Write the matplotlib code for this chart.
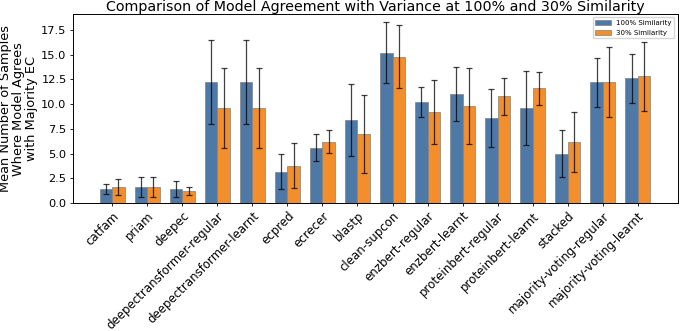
import matplotlib
matplotlib.use("Agg")
import matplotlib.pyplot as plt
import numpy as np

models = ["catfam", "priam", "deepec", "deepectransformer-regular", "deepectransformer-learnt",
          "ecpred", "ecrecer", "blastp", "clean-supcon", "enzbert-regular", "enzbert-learnt",
          "proteinbert-regular", "proteinbert-learnt", "stacked", "majority-voting-regular",
          "majority-voting-learnt"]
mean_100 = [1.4, 1.6, 1.4, 12.2, 12.2, 3.2, 5.6, 8.4, 15.2, 10.2, 11.0, 8.6, 9.6, 5.0, 12.2, 12.6]
err_100 = [0.5, 1.0, 0.8, 4.25, 4.25, 1.8, 1.35, 3.6, 3.05, 1.5, 2.75, 2.9, 3.7, 2.35, 2.5, 2.45]
mean_30 = [1.6, 1.6, 1.2, 9.6, 9.6, 3.8, 6.2, 7.0, 14.8, 9.2, 9.8, 10.8, 11.6, 6.2, 12.2, 12.8]
err_30 = [0.8, 1.0, 0.4, 4.05, 4.05, 2.3, 1.15, 3.9, 3.2, 3.2, 3.8, 1.85, 1.65, 3.05, 3.55, 3.45]

fig = plt.figure(figsize=(6.8, 3.31), dpi=100)
ax = fig.add_axes([0.107, 0.386, 0.89, 0.572])

x = np.arange(len(models))
w = 0.35
ekw = dict(ecolor="black", capsize=2.2, elinewidth=0.9, capthick=0.9, alpha=0.75)
ax.bar(x - w/2, mean_100, w, yerr=err_100, color="#4e79a7", edgecolor="grey", linewidth=0.5,
       label="100% Similarity", error_kw=ekw)
ax.bar(x + w/2, mean_30, w, yerr=err_30, color="#f28e2b", edgecolor="grey", linewidth=0.5,
       label="30% Similarity", error_kw=ekw)

ax.set_xticks(x)
ax.set_xticklabels(models, rotation=45, ha="right", rotation_mode="anchor", fontsize=8.5)
ax.tick_params(axis="y", labelsize=8.2)
ax.tick_params(axis="both", length=2.5, width=0.6, pad=2)
for s in ax.spines.values():
    s.set_linewidth(0.7)
ax.set_xlim(-1.13, 16.15)
ax.set_ylim(0, 19.1)
ax.set_yticks(np.arange(0, 17.6, 2.5))
ax.set_ylabel("Mean Number of Samples\nWhere Model Agrees\nwith Majority EC", fontsize=9.3, labelpad=2,
              linespacing=1.0)
ax.set_title("Comparison of Model Agreement with Variance at 100% and 30% Similarity", fontsize=10.3, pad=2)
ax.legend(loc="upper right", fontsize=5, handlelength=2.2, borderaxespad=0.5)

fig.savefig("out.png", dpi=100)
